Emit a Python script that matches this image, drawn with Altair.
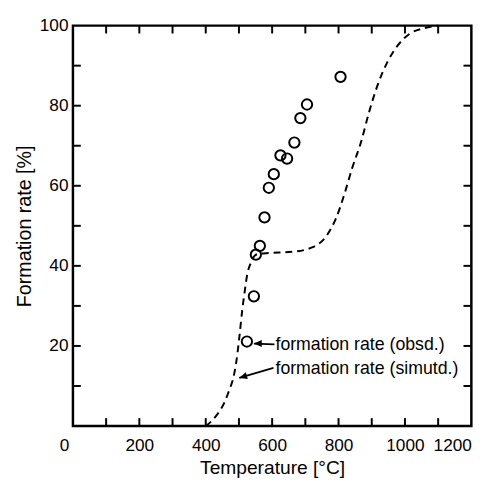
import altair as alt
import pandas as pd

# observed formation rate
obs_t = [524, 545, 551, 563, 577, 590, 605, 625, 645, 667, 685, 705, 806]
obs_r = [21.1, 32.4, 42.8, 45.0, 52.1, 59.5, 62.9, 67.6, 66.8, 70.8, 76.9, 80.3, 87.2]

# simulated formation rate (dashed curve)
sim_t = [400, 433, 457, 471, 483, 492, 501, 510, 518, 524, 536, 548, 560, 590, 660,
         720, 768, 793, 818, 841, 868, 892, 917, 946, 976, 1015, 1055, 1100]
sim_r = [0, 2.7, 6, 9, 12, 16, 22, 29, 34, 37.4, 40.8, 42.6, 43.0, 43.2, 43.5,
         44.6, 48, 52, 58, 64.4, 71, 78.4, 85, 90.7, 94.8, 98, 99.3, 100]

# annotations
ann_text = ["formation rate (obsd.)", "formation rate (simutd.)"]
ann_tx = [610, 610]
ann_ty = [20.1, 14.3]
arr_x_tail = [607, 604]
arr_y_tail = [20.4, 14.5]
arr_x_tip = [545, 501]
arr_y_tip = [20.6, 12.0]
arr_angle = [0, 343]

# axes
x_labels = [0, 200, 400, 600, 800, 1000, 1200]
y_labels = [20, 40, 60, 80, 100]
x_ticks = [100, 200, 300, 400, 500, 600, 700, 800, 900, 1000, 1100]
y_ticks = [10, 20, 30, 40, 50, 60, 70, 80, 90]

W, H = 405, 407
TL = 8
FONT = "Liberation Sans"

xs = alt.Scale(domain=[0, 1200], nice=False, zero=False)
ys = alt.Scale(domain=[0, 100], nice=False)

obs = pd.DataFrame({"t": obs_t, "r": obs_r})
sim = pd.DataFrame({"t": sim_t, "r": sim_r})
ann = pd.DataFrame({"text": ann_text, "x": ann_tx, "y": ann_ty,
                    "x1": arr_x_tail, "y1": arr_y_tail,
                    "x2": arr_x_tip, "y2": arr_y_tip, "ang": arr_angle})
xt = pd.DataFrame({"v": x_ticks})
yt = pd.DataFrame({"v": y_ticks})

xaxis = alt.Axis(values=x_labels, format="d", title="Temperature [°C]", ticks=False, domain=False,
                 grid=False, labelFontSize=17.5, labelPadding=11, titleFontSize=19.5,
                 titleFontWeight="normal", titleBaseline="alphabetic", titleY=48,
                 labelFont=FONT, titleFont=FONT,
                 labelColor="black", titleColor="black",
                 labelOffset={"condition": {"test": "datum.value === 0", "value": -14}, "value": 0})
yaxis = alt.Axis(values=y_labels, format="d", title="Formation rate [%]", ticks=False, domain=False,
                 grid=False, labelFontSize=17.5, labelPadding=5, titleFontSize=20,
                 titleFontWeight="normal", titlePadding=5, labelFont=FONT, titleFont=FONT,
                 labelColor="black", titleColor="black")

line = alt.Chart(sim).mark_line(color="black", strokeWidth=2, strokeDash=[7, 5],
                                interpolate="monotone").encode(
    x=alt.X("t:Q", scale=xs, axis=xaxis),
    y=alt.Y("r:Q", scale=ys, axis=yaxis),
)

pts = alt.Chart(obs).mark_point(shape="circle", filled=False, color="black",
                                strokeWidth=2, size=110, opacity=1).encode(
    x=alt.X("t:Q", scale=xs), y=alt.Y("r:Q", scale=ys))

arrows = alt.Chart(ann).mark_rule(color="black", strokeWidth=1.8).encode(
    x=alt.X("x1:Q", scale=xs), y=alt.Y("y1:Q", scale=ys),
    x2="x2:Q", y2="y2:Q")

heads = alt.Chart(ann).mark_point(shape="M0,0 L1,-0.45 L1,0.45 Z", filled=True,
                                  color="black", size=256, opacity=1).encode(
    x=alt.X("x2:Q", scale=xs), y=alt.Y("y2:Q", scale=ys),
    angle=alt.Angle("ang:Q", scale=None))

texts = alt.Chart(ann).mark_text(align="left", baseline="middle", fontSize=18,
                                 font=FONT, color="black").encode(
    x=alt.X("x:Q", scale=xs), y=alt.Y("y:Q", scale=ys), text="text:N")

tick_b = alt.Chart(xt).mark_rule(color="black", strokeWidth=2).encode(
    x=alt.X("v:Q", scale=xs), y=alt.value(H), y2=alt.value(H - TL))
tick_t = alt.Chart(xt).mark_rule(color="black", strokeWidth=2).encode(
    x=alt.X("v:Q", scale=xs), y=alt.value(0), y2=alt.value(TL))
tick_l = alt.Chart(yt).mark_rule(color="black", strokeWidth=2).encode(
    y=alt.Y("v:Q", scale=ys), x=alt.value(0), x2=alt.value(TL))
tick_r = alt.Chart(yt).mark_rule(color="black", strokeWidth=2).encode(
    y=alt.Y("v:Q", scale=ys), x=alt.value(W), x2=alt.value(W - TL))

chart = alt.layer(line, tick_b, tick_t, tick_l, tick_r, arrows, heads, pts, texts).properties(
    width=W, height=H,
    autosize=alt.AutoSizeParams(type="none"),
    padding={"left": 66, "top": 14, "right": 22, "bottom": 53},
    background="white",
).configure_view(stroke="black", strokeWidth=2.5)

chart.save("out.html", embed_options={"renderer": "svg", "actions": False})
